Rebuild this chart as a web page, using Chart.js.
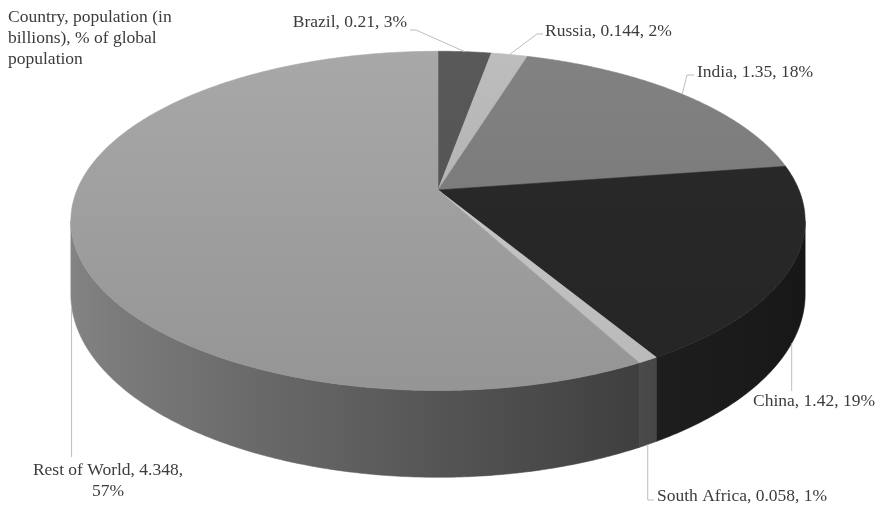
<!DOCTYPE html>
<html>
<head>
<meta charset="utf-8">
<title>Population share</title>
<script src="https://cdn.jsdelivr.net/npm/chart.js@4.4.1/dist/chart.umd.min.js"></script>
<style>
  html, body { margin: 0; padding: 0; background: #fff; }
  #wrap { width: 879px; height: 506px; }
</style>
</head>
<body>
<div id="wrap"><canvas id="pieChart" width="879" height="506"></canvas></div>
<script>
const countries = ['Brazil', 'Russia', 'India', 'China', 'South Africa', 'Rest of World'];
const population = [0.21, 0.144, 1.35, 1.42, 0.058, 4.348];
const sharePct = [3, 2, 18, 19, 1, 57];
const chartTitle = ['Country, population (in', 'billions), % of global', 'population'];

const topColors = ['#555555', '#b4b4b4', '#7c7c7c', '#282828', '#c6c6c6', '#a0a0a0'];

// disc seen in perspective: centre of the top face, radii, tilt, thickness
const view = { cx: 438, cy: 190, rx: 361, ry: 164, tilt: 0.182, depth: 71 };

// label text position and the bend points of each leader line
const labelLayout = [
  { x: 407, y: 22, right: true, anchor: 'top', leader: [[416, 30], [410, 30]] },
  { x: 545, y: 31, anchor: 'top', leader: [[537, 34], [543, 34]] },
  { x: 697, y: 72, anchor: 'top', leader: [[687, 75], [694, 75]] },
  { x: 753, y: 401, anchor: 'bottom', leader: [['v', 391]] },
  { x: 657, y: 496, anchor: 'bottom', leader: [['v', 500], [654, 500]] },
  { x: 108, y: 470, wrap: true, anchor: 'bottom', leader: [['v', 457]] }
];

const FONT = '17.5px "Liberation Serif", "Times New Roman", serif';
const TEXT = '#3c3c3c';

function project(a, level) {
  const u = Math.cos(a), v = Math.sin(a);
  const s = 1 / (1 - view.tilt * v);
  return [view.cx + view.rx * u * s, view.cy + view.ry * v * s + level * view.depth * s];
}

function rgb(hex) {
  const n = parseInt(hex.slice(1), 16);
  return [(n >> 16) & 255, (n >> 8) & 255, n & 255];
}

function scaled(hex, f, add) {
  const c = rgb(hex).map(x => Math.max(0, Math.min(255, Math.round(x * f + (add || 0)))));
  return 'rgb(' + c.join(',') + ')';
}

// side wall light: bright on the left, dark toward the front right
function wallShade(hex, a) {
  return scaled(hex, 0.42 - 0.3 * Math.cos(a), 18);
}

function arcPoints(a0, a1, level) {
  const pts = [];
  const n = Math.max(2, Math.ceil((a1 - a0) / (Math.PI / 360)));
  for (let i = 0; i <= n; i++) pts.push(project(a0 + (a1 - a0) * i / n, level));
  return pts;
}

const pie3d = {
  id: 'pie3d',
  beforeDatasetsDraw(chart) {
    const ctx = chart.ctx;
    const arcs = chart.getDatasetMeta(0).data;
    const frontFrom = Math.asin(view.tilt);
    const frontTo = Math.PI - frontFrom;

    ctx.save();
    // outer walls on the visible front half
    arcs.forEach((arc, i) => {
      const a0 = Math.max(arc.startAngle, frontFrom);
      const a1 = Math.min(arc.endAngle, frontTo);
      if (a1 <= a0) return;
      const top = arcPoints(a0, a1, 0);
      const bottom = arcPoints(a0, a1, 1).reverse();
      const xs = top[0][0], xe = top[top.length - 1][0];
      const grad = ctx.createLinearGradient(xs, 0, xe, 0);
      for (let k = 0; k <= 8; k++) {
        const a = a0 + (a1 - a0) * k / 8;
        const off = Math.abs(xe - xs) < 0.5 ? k / 8 : (project(a, 0)[0] - xs) / (xe - xs);
        grad.addColorStop(Math.max(0, Math.min(1, off)), wallShade(topColors[i], a));
      }
      ctx.beginPath();
      top.concat(bottom).forEach((p, j) => j ? ctx.lineTo(p[0], p[1]) : ctx.moveTo(p[0], p[1]));
      ctx.closePath();
      ctx.fillStyle = grad;
      ctx.fill();
      ctx.strokeStyle = grad;
      ctx.lineWidth = 0.6;
      ctx.stroke();
    });

    // top faces
    const yTop = view.cy - view.ry / (1 + view.tilt);
    const yFront = view.cy + view.ry / (1 - view.tilt);
    arcs.forEach((arc, i) => {
      const pts = arcPoints(arc.startAngle, arc.endAngle, 0);
      const grad = ctx.createLinearGradient(0, yTop, 0, yFront);
      grad.addColorStop(0, scaled(topColors[i], 1.05, 0));
      grad.addColorStop(1, scaled(topColors[i], 0.93, 0));
      ctx.beginPath();
      ctx.moveTo(view.cx, view.cy);
      pts.forEach(p => ctx.lineTo(p[0], p[1]));
      ctx.closePath();
      ctx.fillStyle = grad;
      ctx.fill();
      ctx.strokeStyle = grad;
      ctx.lineWidth = 0.6;
      ctx.stroke();
    });
    ctx.restore();
    return false;
  },
  afterDraw(chart) {
    const ctx = chart.ctx;
    const arcs = chart.getDatasetMeta(0).data;
    ctx.save();
    ctx.font = FONT;
    ctx.fillStyle = TEXT;
    ctx.textBaseline = 'middle';

    chartTitle.forEach((line, i) => {
      ctx.textAlign = 'left';
      ctx.fillText(line, 8, 17 + i * 21);
    });

    arcs.forEach((arc, i) => {
      const lay = labelLayout[i];
      const mid = (arc.startAngle + arc.endAngle) / 2;
      const anchor = project(mid, lay.anchor === 'top' ? 0 : 1);

      ctx.beginPath();
      ctx.moveTo(anchor[0], anchor[1]);
      lay.leader.forEach(p => {
        if (p[0] === 'v') ctx.lineTo(anchor[0], p[1]);
        else ctx.lineTo(p[0], p[1]);
      });
      ctx.strokeStyle = '#bdbdbd';
      ctx.lineWidth = 1;
      ctx.stroke();

      const head = countries[i] + ', ' + population[i] + ',';
      const pct = sharePct[i] + '%';
      if (lay.wrap) {
        ctx.textAlign = 'center';
        ctx.fillText(head, lay.x, lay.y);
        ctx.fillText(pct, lay.x, lay.y + 21);
      } else {
        ctx.textAlign = lay.right ? 'right' : 'left';
        ctx.fillText(head + ' ' + pct, lay.x, lay.y);
      }
    });
    ctx.restore();
  }
};

new Chart(document.getElementById('pieChart'), {
  type: 'pie',
  data: {
    labels: countries,
    datasets: [{
      data: population,
      backgroundColor: topColors,
      borderWidth: 0
    }]
  },
  options: {
    responsive: false,
    animation: false,
    devicePixelRatio: 1,
    plugins: {
      legend: { display: false },
      tooltip: { enabled: false }
    }
  },
  plugins: [pie3d]
});
</script>
</body>
</html>
